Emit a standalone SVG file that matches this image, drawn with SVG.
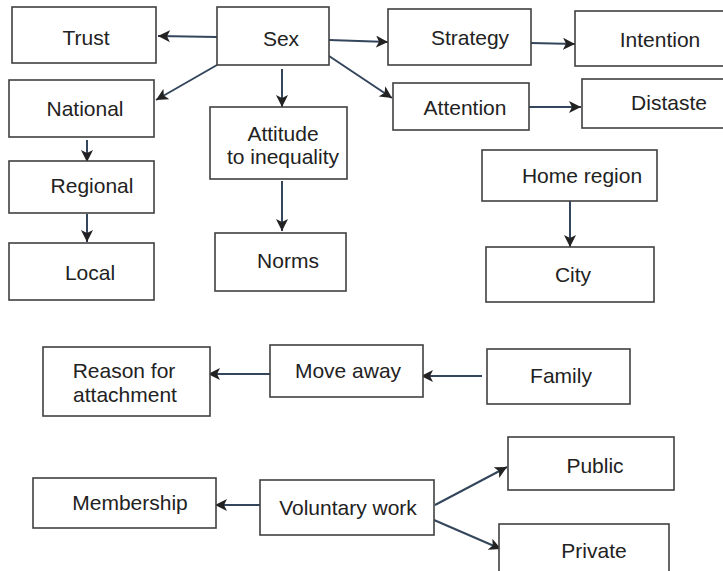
<svg xmlns="http://www.w3.org/2000/svg" width="723" height="571" viewBox="0 0 723 571">
<style>
.box{fill:#fff;stroke:#404040;stroke-width:1.6}
.lbl{font-family:"Liberation Sans",Arial,sans-serif;font-size:21px;fill:#222;text-anchor:middle}
.edge{stroke:#34465c;stroke-width:2;fill:none;marker-end:url(#ah)}
</style>
<defs>
<marker id="ah" viewBox="0 0 10 10" refX="10" refY="5" markerWidth="6" markerHeight="6" markerUnits="strokeWidth" orient="auto">
<path d="M0,0 L10,5 L0,10 L2.5,5 Z" fill="#222"/>
</marker>
</defs>
<rect width="723" height="571" fill="#fff"/>
<g id="connectors">
<line class="edge" x1="217" y1="37" x2="158" y2="36"/>
<line class="edge" x1="217" y1="65" x2="156" y2="100"/>
<line class="edge" x1="282" y1="69" x2="282" y2="107"/>
<line class="edge" x1="329" y1="40" x2="388" y2="42"/>
<line class="edge" x1="329" y1="56" x2="392" y2="98"/>
<line class="edge" x1="531" y1="43" x2="575" y2="44"/>
<line class="edge" x1="526" y1="107" x2="581" y2="107"/>
<line class="edge" x1="87" y1="140" x2="87" y2="162"/>
<line class="edge" x1="87" y1="214" x2="87" y2="242"/>
<line class="edge" x1="282" y1="181" x2="282" y2="231"/>
<line class="edge" x1="570" y1="201" x2="570" y2="247"/>
<line class="edge" x1="270" y1="374" x2="208" y2="374"/>
<line class="edge" x1="482" y1="376" x2="421" y2="376"/>
<line class="edge" x1="260" y1="505" x2="215" y2="505"/>
<line class="edge" x1="435" y1="505" x2="507" y2="467"/>
<line class="edge" x1="434" y1="520" x2="501" y2="549"/>
</g>
<g id="trust"><rect class="box" x="12" y="7" width="144" height="56"/><text class="lbl" x="86" y="45">Trust</text></g>
<g id="sex"><rect class="box" x="217" y="7" width="112" height="58"/><text class="lbl" x="281" y="46">Sex</text></g>
<g id="strategy"><rect class="box" x="388" y="9" width="143" height="56"/><text class="lbl" x="470" y="45">Strategy</text></g>
<g id="intention"><rect class="box" x="575" y="11" width="150" height="55"/><text class="lbl" x="660" y="47">Intention</text></g>
<g id="national"><rect class="box" x="9" y="80" width="145" height="57"/><text class="lbl" x="85" y="116">National</text></g>
<g id="attitude"><rect class="box" x="210" y="107" width="137" height="72"/><text class="lbl" x="283" y="141">Attitude</text><text class="lbl" x="283" y="164">to inequality</text></g>
<g id="attention"><rect class="box" x="393" y="83" width="136" height="47"/><text class="lbl" x="465" y="115">Attention</text></g>
<g id="distaste"><rect class="box" x="582" y="79" width="143" height="49"/><text class="lbl" x="669" y="110">Distaste</text></g>
<g id="regional"><rect class="box" x="9" y="161" width="145" height="52"/><text class="lbl" x="92" y="193">Regional</text></g>
<g id="local"><rect class="box" x="9" y="243" width="145" height="57"/><text class="lbl" x="90" y="280">Local</text></g>
<g id="norms"><rect class="box" x="215" y="233" width="131" height="58"/><text class="lbl" x="288" y="268">Norms</text></g>
<g id="home-region"><rect class="box" x="482" y="150" width="175" height="51"/><text class="lbl" x="582" y="183">Home region</text></g>
<g id="city"><rect class="box" x="486" y="247" width="168" height="55"/><text class="lbl" x="573" y="282">City</text></g>
<g id="reason"><rect class="box" x="43" y="347" width="167" height="69"/><text class="lbl" x="124" y="378">Reason for</text><text class="lbl" x="125" y="402">attachment</text></g>
<g id="move-away"><rect class="box" x="270" y="345" width="153" height="52"/><text class="lbl" x="348" y="378">Move away</text></g>
<g id="family"><rect class="box" x="487" y="349" width="143" height="55"/><text class="lbl" x="561" y="383">Family</text></g>
<g id="membership"><rect class="box" x="33" y="478" width="183" height="50"/><text class="lbl" x="130" y="510">Membership</text></g>
<g id="voluntary-work"><rect class="box" x="260" y="480" width="174" height="55"/><text class="lbl" x="348" y="515">Voluntary work</text></g>
<g id="public"><rect class="box" x="508" y="437" width="166" height="53"/><text class="lbl" x="595" y="473">Public</text></g>
<g id="private"><rect class="box" x="499" y="524" width="170" height="60"/><text class="lbl" x="594" y="558">Private</text></g>
</svg>
